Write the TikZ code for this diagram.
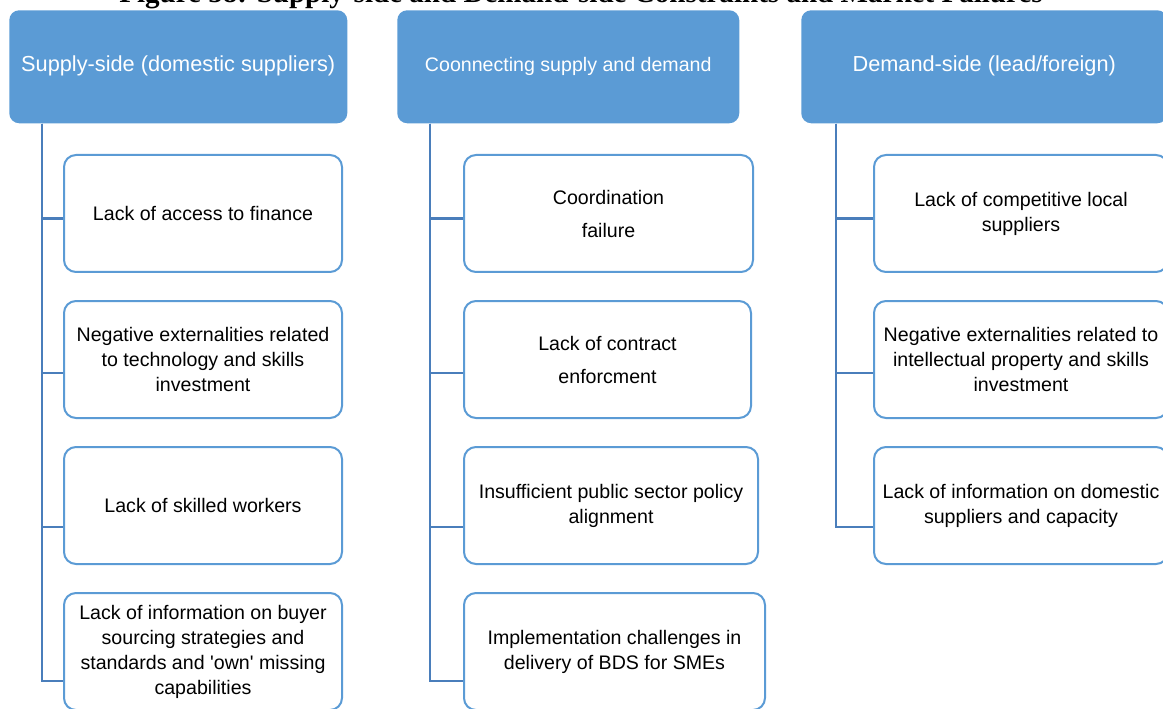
\documentclass[tikz,border=0pt]{standalone}
\usepackage{fontspec}
\setmainfont{Liberation Sans}
\newfontfamily\titlefont{Liberation Serif}
\usetikzlibrary{positioning}
\definecolor{chead}{HTML}{5B9BD5}
\definecolor{cborder}{HTML}{5B9BD5}
\definecolor{cline}{HTML}{4A7EBB}

\begin{document}
\begin{tikzpicture}[
  x=0.75pt, y=-0.75pt,
  head/.style={fill=chead, rounded corners=7.5pt, minimum height=84.75pt,
               text=white, align=center, anchor=north west, inner sep=0pt},
  item/.style={draw=cborder, line width=1.5pt, fill=white, rounded corners=9pt,
               minimum height=87.75pt, align=center, inner sep=0pt,
               font=\fontsize{14.7pt}{18.75pt}\selectfont},
  wide/.style={font=\fontsize{14.7pt}{24.75pt}\selectfont},
  spine/.style={draw=cline, line width=2pt},
  node distance=20.25pt
]
\useasboundingbox (0,0) rectangle (1163,709);
\clip (0,0) rectangle (1163,709);

% title, cut at the top of the page
\node[font=\titlefont\bfseries\fontsize{21.8pt}{24pt}\selectfont, anchor=base] (title) at (581,3)
  {Figure 58: Supply-side and Demand-side Constraints and Market Failures};

% column headers
\node[head, minimum width=253.5pt, font=\fontsize{16.3pt}{19pt}\selectfont] (h1) at (9,10)
  {\strut Supply-side (domestic suppliers)};
\node[head, minimum width=256.5pt, font=\fontsize{14.7pt}{18pt}\selectfont] (h2) at (397,10)
  {\strut Coonnecting supply and demand};
\node[head, minimum width=274.5pt, font=\fontsize{16.3pt}{19pt}\selectfont] (h3) at (801,10)
  {\strut Demand-side (lead/foreign)};

% supply side
\node[item, minimum width=208.5pt, anchor=north west] (a1) at (63,154)
  {Lack of access to finance};
\node[item, minimum width=208.5pt, below=of a1.south west, anchor=north west] (a2)
  {Negative externalities related\\to technology and skills\\investment};
\node[item, minimum width=208.5pt, below=of a2.south west, anchor=north west] (a3)
  {Lack of skilled workers};
\node[item, minimum width=208.5pt, below=of a3.south west, anchor=north west] (a4)
  {Lack of information on buyer\\sourcing strategies and\\standards and \textquotesingle own\textquotesingle{} missing\\capabilities};

% connecting
\node[item, wide, minimum width=216.75pt, anchor=north west] (b1) at (463,154)
  {Coordination\\failure};
\node[item, wide, minimum width=215.25pt, below=of b1.south west, anchor=north west] (b2)
  {Lack of contract\\enforcment};
\node[item, minimum width=220.5pt, below=of b2.south west, anchor=north west] (b3)
  {Insufficient public sector policy\\alignment};
\node[item, minimum width=225.75pt, below=of b3.south west, anchor=north west] (b4)
  {Implementation challenges in\\delivery of BDS for SMEs};

% demand side
\node[item, minimum width=220.5pt, anchor=north west] (d1) at (873,154)
  {Lack of competitive local\\suppliers};
\node[item, minimum width=220.5pt, below=of d1.south west, anchor=north west] (d2)
  {Negative externalities related to\\intellectual property and skills\\investment};
\node[item, minimum width=220.5pt, below=of d2.south west, anchor=north west] (d3)
  {Lack of information on domestic\\suppliers and capacity};

% tree lines
\coordinate (s1) at ([xshift=24.75pt]h1.south west);
\coordinate (s2) at ([xshift=24.75pt]h2.south west);
\coordinate (s3) at ([xshift=26.25pt]h3.south west);
\foreach \n/\s in {a1/-4pt,a2/-10pt,a3/-16pt,a4/-22pt}
  \draw[spine] (s1) |- ([yshift=\s]\n.west);
\foreach \n/\s in {b1/-4pt,b2/-10pt,b3/-16pt,b4/-22pt}
  \draw[spine] (s2) |- ([yshift=\s]\n.west);
\foreach \n/\s in {d1/-4pt,d2/-10pt,d3/-16pt}
  \draw[spine] (s3) |- ([yshift=\s]\n.west);
\end{tikzpicture}
\end{document}
